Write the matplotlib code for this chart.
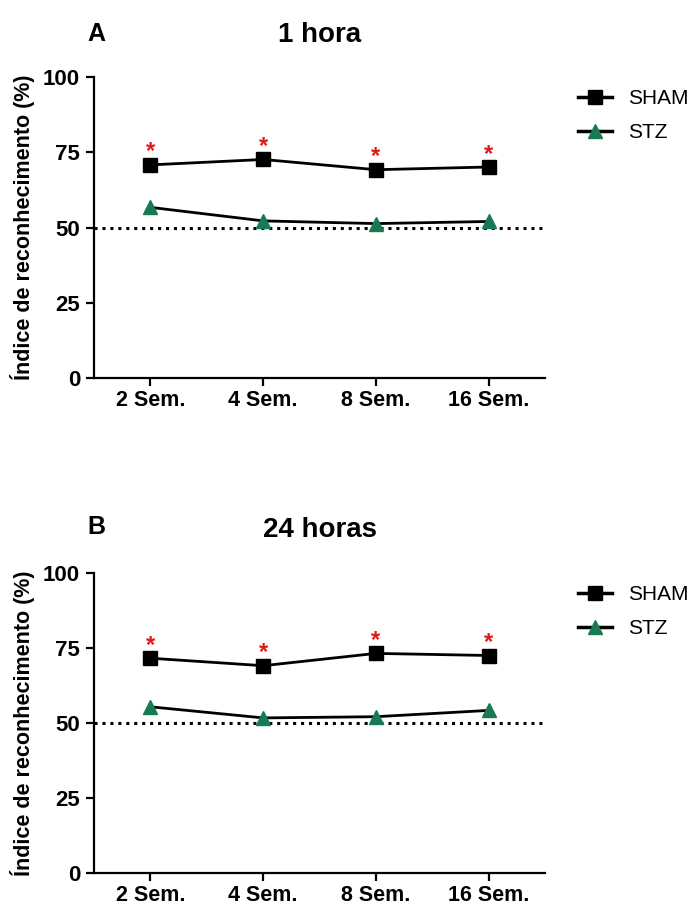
import matplotlib
matplotlib.use("Agg")
import matplotlib.pyplot as plt
import numpy as np

plt.rcParams['font.family'] = ['Liberation Sans', 'DejaVu Sans']

categories = ["2 Sem.", "4 Sem.", "8 Sem.", "16 Sem."]
sham_1h = [70.8, 72.6, 69.2, 70.1]
stz_1h = [56.7, 52.2, 51.3, 52.0]
sham_24h = [71.6, 69.1, 73.2, 72.5]
stz_24h = [55.4, 51.7, 52.1, 54.2]
chance_level = 50
yticks = [0, 25, 50, 75, 100]
panel_letters = ["A", "B"]
panel_titles = ["1 hora", "24 horas"]
ylabel = "Índice de reconhecimento (%)"
series_names = ["SHAM", "STZ"]

W, H = 697, 906
fig = plt.figure(figsize=(W / 100, H / 100), dpi=100)

green = "#177a52"

def px_axes(left, right, top, bottom):
    return [left / W, 1 - bottom / H, (right - left) / W, (bottom - top) / H]

panels = [
    (sham_1h, stz_1h, px_axes(94, 545, 77, 378), 41, 42),
    (sham_24h, stz_24h, px_axes(94, 545, 573, 873), 534, 537),
]

for i, (sham, stz, rect, ybase_letter, ybase_title) in enumerate(panels):
    ax = fig.add_axes(rect)
    x = np.arange(len(categories))
    ax.axhline(chance_level, color="black", lw=2.2, linestyle=(0, (1, 1.6)), zorder=1)
    ax.plot(x, sham, color="black", lw=2, marker="s", markersize=10,
            markerfacecolor="black", markeredgecolor="black", label=series_names[0], zorder=3)
    ax.plot(x, stz, color="black", lw=2, marker="^", markersize=10,
            markerfacecolor=green, markeredgecolor=green, label=series_names[1], zorder=3)
    for xi, yi in zip(x, sham):
        ax.annotate("*", (xi, yi), xytext=(0, 1), textcoords="offset points",
                    ha="center", va="bottom", color="#e01818", fontsize=17,
                    fontweight="bold")
    ax.set_xlim(-0.5, 3.5)
    ax.set_ylim(0, 100)
    ax.set_yticks(yticks)
    ax.set_xticks(x)
    ax.set_xticklabels(categories)
    for s in ["top", "right"]:
        ax.spines[s].set_visible(False)
    for s in ["left", "bottom"]:
        ax.spines[s].set_linewidth(1.6)
    ax.tick_params(axis="both", length=6, width=1.6, labelsize=16, pad=4)
    ax.tick_params(axis="x", pad=2.5, labelsize=15.5)
    for lab in ax.get_xticklabels() + ax.get_yticklabels():
        lab.set_fontweight("bold")
    ax.set_ylabel(ylabel, fontsize=15.5, fontweight="bold")
    ax.yaxis.set_label_coords(-0.13, 0.5)
    fig.text(87 / W, 1 - ybase_letter / H, panel_letters[i], fontsize=18,
             fontweight="bold", va="baseline", ha="left")
    fig.text(320 / W, 1 - ybase_title / H, panel_titles[i], fontsize=20,
             fontweight="bold", va="baseline", ha="center")
    top_px = rect[1] + rect[3]
    leg = ax.legend(loc="upper left", bbox_to_anchor=(568 / W, top_px - 2 / H),
                    bbox_transform=fig.transFigure, frameon=False, fontsize=15,
                    handlelength=1.6, handletextpad=0.8, labelspacing=0.7,
                    borderpad=0)
    for lh in leg.get_lines():
        lh.set_linewidth(2.5)

fig.savefig("out.png", dpi=100)
